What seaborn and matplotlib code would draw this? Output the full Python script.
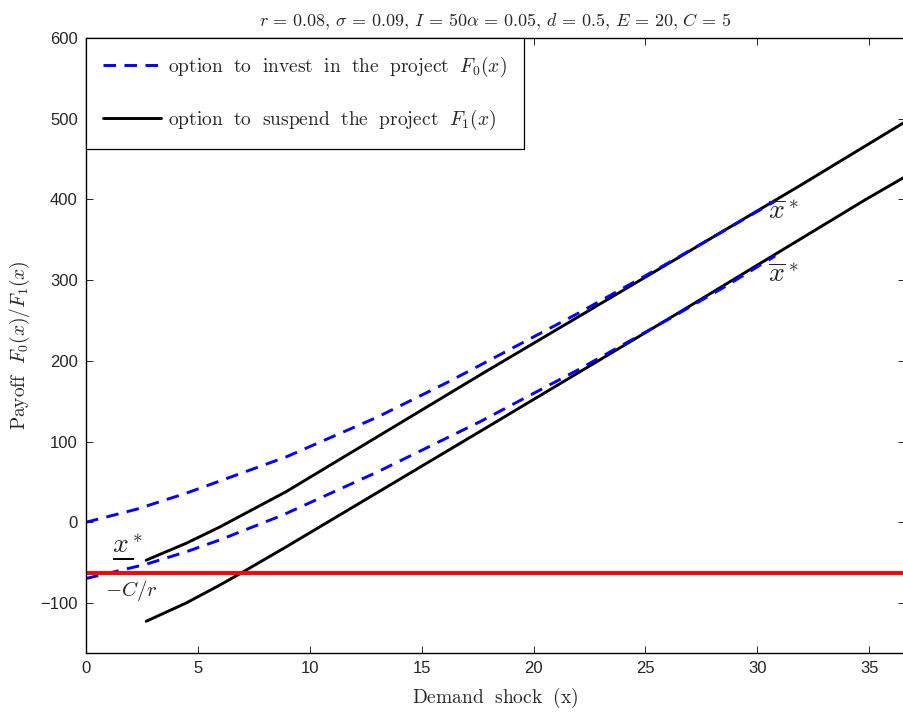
import numpy as np
import pandas as pd
import matplotlib
matplotlib.use("Agg")
import matplotlib.pyplot as plt
import seaborn as sns

# Option values read along the demand-shock axis
x_invest_hi = [0.0, 2.24, 4.48, 8.95, 13.0, 16.2, 17.64, 22.0, 26.0, 28.5, 30.8]
f0_hi = [0.0, 16.0, 36.0, 81.0, 130.0, 174.0, 195.0, 259.0, 321.0, 361.0, 398.0]

x_suspend_hi = [2.69, 4.48, 5.97, 8.95, 17.64, 26.6, 31.96, 36.6]
f1_hi = [-47.0, -26.0, -6.0, 38.0, 183.0, 330.0, 418.0, 496.0]

x_invest_lo = [0.0, 2.69, 4.48, 5.97, 8.8, 13.0, 17.64, 22.0, 26.0, 28.5, 30.8]
f0_lo = [-69.7, -52.0, -36.6, -22.0, 9.0, 62.0, 125.0, 189.0, 251.0, 291.0, 330.0]

x_suspend_lo = [2.69, 4.48, 5.97, 6.96, 8.95, 17.64, 26.6, 34.85, 36.6]
f1_lo = [-122.7, -100.0, -78.0, -62.5, -30.4, 113.0, 261.5, 400.0, 428.0]

r, C = 0.08, 5
floor_level = -C / r  # -C/r

x_ticks = [0, 5, 10, 15, 20, 25, 30, 35]
y_ticks = [-100, 0, 100, 200, 300, 400, 500, 600]

sns.set_style("ticks")
plt.rcParams["font.family"] = ["Liberation Sans", "DejaVu Sans"]
plt.rcParams["mathtext.fontset"] = "cm"
plt.rcParams["xtick.direction"] = "in"
plt.rcParams["ytick.direction"] = "in"

fig = plt.figure(figsize=(9.04, 7.15), dpi=100)
ax = fig.add_axes([86 / 904, 1 - 653 / 715, 819 / 904, (653 - 38) / 715])

lw = 2.1
dash = (4.3, 2.9)

df_ih = pd.DataFrame({"x": x_invest_hi, "y": f0_hi})
df_il = pd.DataFrame({"x": x_invest_lo, "y": f0_lo})
df_sh = pd.DataFrame({"x": x_suspend_hi, "y": f1_hi})
df_sl = pd.DataFrame({"x": x_suspend_lo, "y": f1_lo})

sns.lineplot(data=df_sh, x="x", y="y", ax=ax, color="black", lw=lw,
             estimator=None, label="suspend")
sns.lineplot(data=df_sl, x="x", y="y", ax=ax, color="black", lw=lw,
             estimator=None)
sns.lineplot(data=df_ih, x="x", y="y", ax=ax, color="#0000ff", lw=lw,
             estimator=None, label="invest")
sns.lineplot(data=df_il, x="x", y="y", ax=ax, color="#0000ff", lw=lw,
             estimator=None)
for ln in ax.lines[:4]:
    ln.set_solid_joinstyle("round")
for ln in ax.lines[2:4]:
    ln.set_dashes(dash)
ax.axhline(floor_level, color="#ff0000", lw=2.8)

ax.set_xlim(0, 36.6)
ax.set_ylim(-162, 600)
ax.set_xticks(x_ticks)
ax.set_yticks(y_ticks)
ax.set_xticklabels([str(t) for t in x_ticks])
ax.set_yticklabels(["\u2212100" if t < 0 else str(t) for t in y_ticks])
ax.tick_params(axis="both", which="both", direction="in", length=5, width=0.7,
               labelsize=12, top=True, right=True, pad=6)
for s in ax.spines.values():
    s.set_linewidth(1.0)
    s.set_color("black")
    s.set_visible(True)

ax.set_xlabel(r"$\mathrm{Demand\ \ shock\ \ (x)}$", fontsize=14, labelpad=7)
ax.set_ylabel(r"$\mathrm{Payoff}\ \ F_0(x)/F_1(x)$", fontsize=14, labelpad=6)
ax.set_title(r"$r\,=\,0.08,\,\sigma\,=\,0.09,\,I\,=\,50\alpha\,=\,0.05,\,d\,=\,0.5,\,E\,=\,20,\,C\,=\,5$",
             fontsize=13, pad=8)

h_susp, h_inv = ax.lines[0], ax.lines[2]
leg = ax.legend([h_inv, h_susp],
                [r"$\mathrm{option\ \ to\ \ invest\ \ in\ \ the\ \ project}\ \ F_0(x)$",
                 r"$\mathrm{option\ \ to\ \ suspend\ \ the\ \ project}\ \ F_1(x)$"],
                loc="upper left", bbox_to_anchor=(0, 1), borderaxespad=0,
                fontsize=14, frameon=True, fancybox=False, edgecolor="black",
                framealpha=1, handlelength=3.0, handletextpad=0.35,
                labelspacing=1.45, borderpad=0.88)
leg.get_frame().set_linewidth(0.9)

# threshold labels
ax.text(1.85, -30, r"$x^*$", fontsize=20, ha="center", va="center")
ax.plot([1.2, 2.15], [-45, -45], color="black", lw=1.4, solid_capstyle="butt")
ax.text(2.0, -85, r"$-C/r$", fontsize=15, ha="center", va="center")
ax.text(31.15, 384, r"$\overline{x}^*$", fontsize=20, ha="center", va="center")
ax.text(31.15, 306, r"$\overline{x}^*$", fontsize=20, ha="center", va="center")

fig.savefig("out.png", dpi=100)
